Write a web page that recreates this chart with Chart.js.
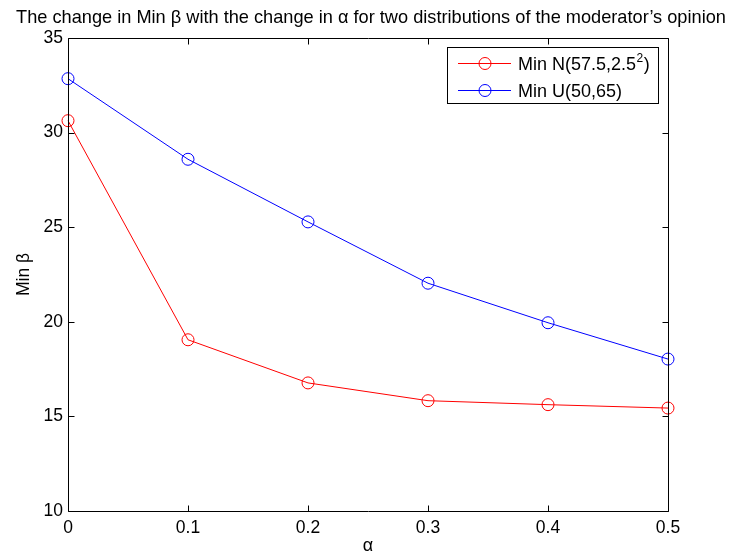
<!DOCTYPE html>
<html><head><meta charset="utf-8">
<script src="https://cdn.jsdelivr.net/npm/chart.js@4"></script>
<style>html,body{margin:0;padding:0;background:#fff}#w{width:734px;height:555px;position:relative}</style>
</head><body><div id="w"><canvas id="c" width="734" height="555"></canvas></div>
<script>
const alphaValues = [0, 0.1, 0.2, 0.3, 0.4, 0.5];
const minBetaNormal = [30.63, 19.05, 16.77, 15.83, 15.62, 15.44];
const minBetaUniform = [32.85, 28.59, 25.28, 22.04, 19.95, 18.03];
const xTicks = [0, 0.1, 0.2, 0.3, 0.4, 0.5];
const yTicks = [10, 15, 20, 25, 30, 35];
const seriesLabels = ['Min N(57.5,2.5²)', 'Min U(50,65)'];
const titleText = 'The change in Min β with the change in α for two distributions of the moderator’s opinion';
const xLabel = 'α';
const yLabel = 'Min β';

const FONT = '"Liberation Sans", Arial, Helvetica, sans-serif';

const framePlugin = {
  id: 'frame',
  afterDatasetsDraw(chart) {
    const {ctx, chartArea: a, scales: {x, y}} = chart;
    ctx.save();
    ctx.strokeStyle = '#000';
    ctx.lineWidth = 1;
    ctx.beginPath();
    const L = Math.round(a.left) + 0.5, R = Math.round(a.right) + 0.5;
    const T = Math.round(a.top) + 0.5, B = Math.round(a.bottom) + 0.5;
    ctx.rect(L, T, R - L, B - T);
    const tl = 6;
    xTicks.forEach(v => {
      const px = Math.round(x.getPixelForValue(v)) + 0.5;
      ctx.moveTo(px, B); ctx.lineTo(px, B - tl);
      ctx.moveTo(px, T); ctx.lineTo(px, T + tl);
    });
    yTicks.forEach(v => {
      const py = Math.round(y.getPixelForValue(v)) + 0.5;
      ctx.moveTo(L, py); ctx.lineTo(L + tl, py);
      ctx.moveTo(R, py); ctx.lineTo(R - tl, py);
    });
    ctx.stroke();
    // title
    ctx.fillStyle = '#000';
    ctx.font = '18.2px ' + FONT;
    ctx.textAlign = 'center';
    ctx.textBaseline = 'alphabetic';
    ctx.fillText(titleText, 371, 22.5);
    // legend
    const bx = 447.5, by = 47.5, bw = 211, bh = 56;
    ctx.fillStyle = '#fff';
    ctx.fillRect(bx, by, bw, bh);
    ctx.strokeStyle = '#000';
    ctx.strokeRect(bx, by, bw, bh);
    const rows = [63.5, 90.5];
    chart.data.datasets.forEach((ds, i) => {
      const yy = rows[i];
      ctx.strokeStyle = ds.borderColor;
      ctx.lineWidth = 1;
      ctx.beginPath();
      ctx.moveTo(458, yy); ctx.lineTo(511, yy);
      ctx.stroke();
      ctx.beginPath();
      ctx.arc(485, yy, 6, 0, Math.PI * 2);
      ctx.stroke();
      ctx.fillStyle = '#000';
      ctx.textAlign = 'left';
      ctx.textBaseline = 'alphabetic';
      const base = yy + 6.5;
      const parts = ds.label.split('²');
      let cx = 518;
      parts.forEach((p, k) => {
        ctx.font = '18px ' + FONT;
        ctx.fillText(p, cx, base);
        cx += ctx.measureText(p).width;
        if (k < parts.length - 1) {
          ctx.font = '12px ' + FONT;
          ctx.fillText('2', cx + 0.5, base - 8);
          cx += ctx.measureText('2').width + 1;
        }
      });
    });
    ctx.restore();
  }
};

new Chart(document.getElementById('c'), {
  type: 'line',
  data: {
    datasets: [
      {label: seriesLabels[0], data: alphaValues.map((a, i) => ({x: a, y: minBetaNormal[i]})),
       borderColor: '#ff0000', backgroundColor: 'rgba(0,0,0,0)', borderWidth: 1,
       pointRadius: 6, pointBorderWidth: 1, pointBackgroundColor: 'rgba(0,0,0,0)', pointBorderColor: '#ff0000', tension: 0},
      {label: seriesLabels[1], data: alphaValues.map((a, i) => ({x: a, y: minBetaUniform[i]})),
       borderColor: '#0000ff', backgroundColor: 'rgba(0,0,0,0)', borderWidth: 1,
       pointRadius: 6, pointBorderWidth: 1, pointBackgroundColor: 'rgba(0,0,0,0)', pointBorderColor: '#0000ff', tension: 0}
    ]
  },
  options: {
    responsive: false,
    animation: false,
    devicePixelRatio: 1,
    clip: false,
    layout: {padding: {left: 0, top: 38, right: 66, bottom: 0}},
    plugins: {legend: {display: false}, title: {display: false}, tooltip: {enabled: false}},
    scales: {
      x: {
        type: 'linear', min: 0, max: 0.5,
        afterBuildTicks: s => { s.ticks = xTicks.map(v => ({value: v})); },
        afterFit: s => { s.height = 44; },
        grid: {display: false, drawTicks: false},
        border: {display: false},
        ticks: {color: '#000', font: {family: FONT, size: 17.5}, padding: 7, maxRotation: 0,
                callback: v => String(v)},
        title: {display: true, text: xLabel, color: '#000', font: {family: FONT, size: 18}, padding: {top: 0, bottom: -2}}
      },
      y: {
        type: 'linear', min: 10, max: 35,
        afterBuildTicks: s => { s.ticks = yTicks.map(v => ({value: v})); },
        afterFit: s => { s.width = 68; },
        grid: {display: false, drawTicks: false},
        border: {display: false},
        ticks: {color: '#000', font: {family: FONT, size: 17.5}, padding: 5, callback: v => String(v)},
        title: {display: true, text: yLabel, color: '#000', font: {family: FONT, size: 17.5}, padding: {top: 14, bottom: 0}}
      }
    }
  },
  plugins: [framePlugin]
});
</script>
</body></html>
